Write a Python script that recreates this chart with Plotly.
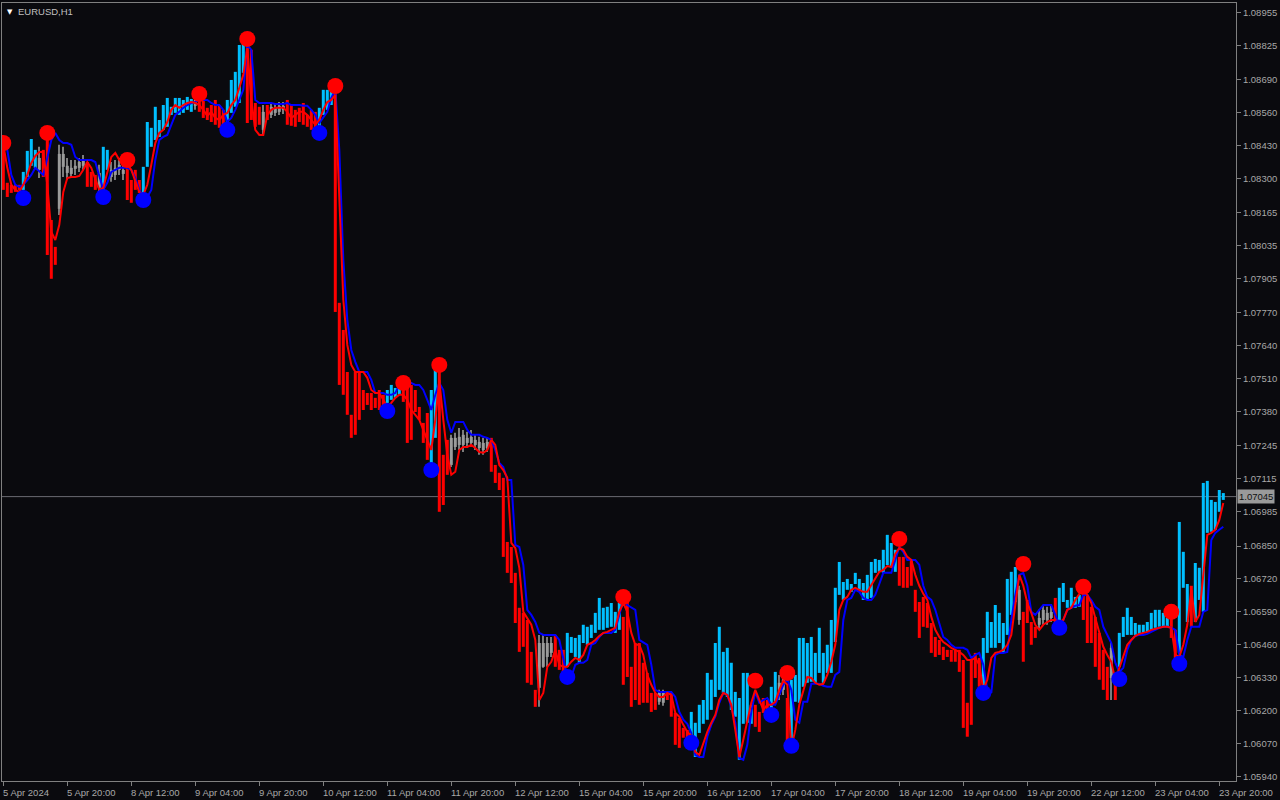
import plotly.graph_objects as go

# ---------------- data (prices stored in points, 1 point = 0.00001) ----------------
BASE = 1.0
PT = 1e-5
SYMBOL = "EURUSD,H1"
BID = 1.07045

x_tick_labels = ["5 Apr 2024", "5 Apr 20:00", "8 Apr 12:00", "9 Apr 04:00", "9 Apr 20:00",
                 "10 Apr 12:00", "11 Apr 04:00", "11 Apr 20:00", "12 Apr 12:00", "15 Apr 04:00",
                 "15 Apr 20:00", "16 Apr 12:00", "17 Apr 04:00", "17 Apr 20:00", "18 Apr 12:00",
                 "19 Apr 04:00", "19 Apr 20:00", "22 Apr 12:00", "23 Apr 04:00", "23 Apr 20:00"]
x_tick_bars = [0, 16, 32, 48, 64, 80, 96, 112, 128, 144, 160, 176, 192, 208, 224, 240, 256, 272, 288, 304]

y_tick_values = [1.08955, 1.08825, 1.08690, 1.08560, 1.08430, 1.08300, 1.08165, 1.08035,
                 1.07905, 1.07770, 1.07640, 1.07510, 1.07380, 1.07245, 1.07115, 1.06985,
                 1.06850, 1.06720, 1.06590, 1.06460, 1.06330, 1.06200, 1.06070, 1.05940]

# b = bullish (sky blue), r = bearish (red), g = neutral candle (gray)
body_kind = ("rrrrrbbbbgr" "rrrggggggg" "rrrgbbgggg" "rrrrbbbbbb" "bbbbbbbgrr" "rrrrrbbbbb"
             "rrrrgrgggg" "rrrrrrrrbb" "bbrrrrrrrr" "rrrrrbbbbr" "rrrrrrbbrr" "rggggggggg"
             "grrrrrrrrr" "rrrggggrrr" "bbbbbbbbbb" "bbbbrrrrrr" "rrrggrrrrr" "rbbbbbbbbb"
             "bbbbbbbrrr" "rbbggrbbbb" "bbbbbbbbbb" "bbbbbbbbbb" "bbbrrrrrrr" "rrrrrrrrrr"
             "rrrrbbbbbb" "bbbgrrrrgg" "ggrbbbbbbr" "rrrrrrgrbb" "bbbbbbbbbb" "brrbbbrbbb"
             "bbbbb")

body_top = [
    8422, 8284, 8276, 8276, 8276, 8327, 8410, 8457, 8414, 8382,
    8414, 8473, 8137, 8031, 8398, 8398, 8351, 8343, 8351, 8366,
    8374, 8366, 8327, 8315, 8323, 8426, 8414, 8335, 8343, 8355,
    8335, 8355, 8295, 8335, 8295, 8347, 8524, 8501, 8584, 8532,
    8591, 8619, 8584, 8619, 8619, 8611, 8623, 8615, 8611, 8623,
    8611, 8580, 8591, 8611, 8591, 8572, 8611, 8690, 8722, 8828,
    8836, 8828, 8809, 8599, 8584, 8564, 8591, 8584, 8580, 8588,
    8588, 8611, 8591, 8572, 8580, 8599, 8552, 8572, 8564, 8580,
    8651, 8651, 8659, 8651, 7810, 7703, 7537, 7368, 7537, 7537,
    7466, 7454, 7454, 7435, 7466, 7447, 7466, 7486, 7474, 7494,
    7466, 7498, 7486, 7466, 7399, 7336, 7375, 7466, 7545, 7537,
    7210, 7269, 7277, 7277, 7281, 7289, 7277, 7281, 7269, 7261,
    7257, 7261, 7277, 7170, 7139, 7119, 6866, 6846, 6744, 6606,
    6586, 6558, 6432, 6282, 6467, 6467, 6467, 6467, 6499, 6440,
    6440, 6507, 6491, 6487, 6499, 6539, 6531, 6539, 6586, 6645,
    6606, 6610, 6625, 6590, 6625, 6570, 6649, 6373, 6467, 6467,
    6389, 6349, 6270, 6270, 6270, 6270, 6270, 6270, 6191, 6171,
    6132, 6124, 6195, 6152, 6223, 6242, 6349, 6322, 6467, 6531,
    6432, 6448, 6389, 6274, 6250, 6349, 6349, 6223, 6223, 6195,
    6250, 6242, 6294, 6353, 6310, 6322, 6250, 6322, 6341, 6487,
    6487, 6467, 6491, 6428, 6527, 6428, 6460, 6558, 6685, 6787,
    6708, 6720, 6700, 6744, 6720, 6704, 6736, 6787, 6799, 6795,
    6835, 6894, 6862, 6835, 6807, 6807, 6767, 6795, 6677, 6629,
    6649, 6625, 6546, 6491, 6479, 6452, 6440, 6440, 6440, 6440,
    6400, 6231, 6400, 6428, 6408, 6487, 6590, 6550, 6617, 6586,
    6546, 6720, 6748, 6767, 6677, 6590, 6637, 6550, 6531, 6566,
    6598, 6586, 6590, 6645, 6685, 6704, 6637, 6685, 6649, 6657,
    6685, 6657, 6610, 6570, 6507, 6440, 6373, 6448, 6349, 6507,
    6570, 6606, 6570, 6546, 6539, 6539, 6550, 6586, 6598, 6598,
    6586, 6566, 6566, 6519, 6945, 6827, 6700, 6693, 6783, 6764,
    7099, 7107, 7032, 7024, 7071, 7059]

body_bot = [
    8256, 8228, 8244, 8248, 8256, 8256, 8307, 8351, 8343, 8335,
    8307, 7999, 7905, 7960, 8181, 8347, 8323, 8319, 8339, 8343,
    8351, 8268, 8268, 8256, 8264, 8256, 8335, 8307, 8315, 8335,
    8319, 8216, 8205, 8256, 8244, 8236, 8347, 8426, 8453, 8465,
    8493, 8505, 8552, 8560, 8552, 8560, 8572, 8564, 8588, 8564,
    8540, 8532, 8524, 8513, 8501, 8513, 8524, 8560, 8584, 8599,
    8718, 8520, 8532, 8505, 8513, 8493, 8532, 8552, 8560, 8564,
    8572, 8513, 8509, 8505, 8524, 8513, 8505, 8493, 8481, 8501,
    8552, 8572, 8591, 7774, 7486, 7447, 7368, 7277, 7289, 7348,
    7387, 7407, 7387, 7395, 7387, 7407, 7415, 7427, 7435, 7447,
    7419, 7257, 7269, 7379, 7348, 7257, 7190, 7178, 7277, 6985,
    7012, 7131, 7170, 7241, 7249, 7249, 7257, 7257, 7249, 7237,
    7229, 7237, 7143, 7099, 7071, 6807, 6744, 6704, 6546, 6432,
    6452, 6310, 6302, 6215, 6290, 6373, 6412, 6428, 6373, 6361,
    6341, 6373, 6428, 6412, 6389, 6467, 6460, 6487, 6507, 6519,
    6519, 6527, 6531, 6507, 6519, 6302, 6333, 6215, 6242, 6223,
    6231, 6231, 6195, 6203, 6235, 6231, 6242, 6176, 6065, 6053,
    6093, 6077, 6097, 6017, 6112, 6148, 6164, 6203, 6254, 6282,
    6270, 6254, 6203, 6176, 6006, 6148, 6152, 6148, 6136, 6116,
    6191, 6183, 6191, 6235, 6262, 6282, 6057, 6085, 6235, 6231,
    6294, 6310, 6314, 6310, 6349, 6310, 6349, 6349, 6471, 6657,
    6637, 6677, 6669, 6700, 6677, 6637, 6637, 6645, 6744, 6748,
    6744, 6775, 6767, 6748, 6693, 6685, 6685, 6693, 6590, 6487,
    6531, 6527, 6428, 6412, 6420, 6400, 6412, 6393, 6393, 6353,
    6132, 6097, 6144, 6329, 6294, 6294, 6428, 6448, 6448, 6467,
    6428, 6499, 6578, 6629, 6558, 6393, 6546, 6460, 6487, 6539,
    6558, 6558, 6566, 6550, 6558, 6629, 6606, 6610, 6606, 6610,
    6558, 6467, 6467, 6373, 6322, 6282, 6242, 6329, 6242, 6373,
    6491, 6499, 6499, 6499, 6499, 6507, 6511, 6519, 6527, 6531,
    6531, 6531, 6487, 6408, 6428, 6685, 6550, 6531, 6550, 6637,
    6590, 6902, 6906, 6914, 6985, 7032]

gray_idx = [9, 14, 15, 16, 17, 18, 19, 20, 24, 27, 28, 29, 30, 48, 65, 67, 68, 69, 70,
            112, 113, 114, 115, 116, 117, 118, 119, 120, 121, 134, 135, 136, 137,
            164, 165, 194, 195, 254, 259, 260, 261, 262, 277]
gray_wick_hi = [8426, 8434, 8426, 8382, 8374, 8374, 8382, 8394, 8355, 8366, 8374, 8382, 8362,
                8631, 8591, 8603, 8599, 8603, 8603, 7289, 7297, 7316, 7308, 7301, 7308, 7289,
                7281, 7277, 7277, 6499, 6499, 6491, 6491, 6282, 6282, 6341, 6341, 6693, 6598,
                6617, 6610, 6617, 6467]
gray_wick_lo = [8303, 8157, 8307, 8295, 8303, 8315, 8327, 8335, 8248, 8288, 8295, 8315, 8295,
                8572, 8473, 8540, 8548, 8552, 8556, 7162, 7229, 7229, 7221, 7237, 7245, 7229,
                7210, 7210, 7221, 6215, 6369, 6373, 6412, 6223, 6219, 6242, 6262, 6539, 6519,
                6539, 6539, 6550, 6242]

red_line = [
    8434, 8343, 8276, 8256, 8248, 8276, 8315, 8362, 8390, 8406, 8406, 8276, 8090, 8058, 8118,
    8248, 8303, 8307, 8307, 8311, 8335, 8366, 8343, 8295, 8256, 8264, 8323, 8386, 8402, 8374,
    8366, 8358, 8335, 8295, 8248, 8236, 8276, 8355, 8441, 8481, 8493, 8524, 8572, 8591,
    8580, 8591, 8599, 8603, 8599, 8591, 8572, 8548, 8564, 8540, 8532, 8552, 8560, 8591, 8611,
    8659, 8710, 8816, 8611, 8493, 8473, 8473, 8552, 8572, 8580, 8580, 8580, 8564, 8540, 8552,
    8564, 8564, 8552, 8532, 8513, 8532, 8572, 8603, 8611, 8631,
    8216, 7822, 7644, 7565, 7537, 7537, 7537, 7514, 7466, 7454, 7454, 7427, 7399, 7415, 7435, 7447,
    7447, 7427, 7387, 7368, 7348, 7308, 7269, 7229, 7348, 7506, 7348, 7210, 7131, 7143, 7229,
    7241, 7241, 7249, 7237, 7221, 7218, 7229, 7269, 7249, 7170, 7150,
    7119, 6862, 6842, 6764, 6590, 6566, 6539, 6479, 6242, 6270, 6373, 6393, 6440, 6381, 6373,
    6373, 6393, 6408, 6400, 6420, 6460, 6467, 6479, 6495, 6507, 6511, 6519, 6527, 6590, 6625,
    6590, 6507, 6460, 6460, 6420, 6341, 6302, 6270, 6254, 6254, 6270, 6262, 6191, 6176, 6144,
    6116, 6101, 6037, 6025, 6073, 6116, 6152, 6183, 6242, 6270, 6262, 6223, 6124, 6017,
    6085, 6152, 6231, 6282, 6242, 6203, 6223, 6223, 6235, 6282, 6318, 6302, 6053, 6124, 6223,
    6282, 6333, 6329, 6310, 6302, 6306, 6341, 6393, 6460, 6598, 6637, 6649, 6677, 6685, 6677,
    6669, 6669, 6697, 6720, 6748, 6756, 6771, 6767, 6819, 6842, 6835, 6807,
    6795, 6736, 6693, 6661, 6637, 6570, 6519, 6491, 6471, 6460, 6448, 6440, 6432, 6420, 6400,
    6400, 6408, 6381, 6282, 6322, 6408, 6428, 6432, 6440, 6460, 6499, 6617, 6736, 6693, 6625,
    6586, 6539, 6519, 6539, 6550, 6558, 6558, 6550, 6558, 6598,
    6606, 6637, 6661, 6677, 6657, 6625, 6566, 6511, 6452, 6420, 6393, 6322, 6369, 6420, 6460,
    6479, 6495, 6503, 6507, 6511, 6519, 6523, 6527, 6531, 6531, 6527, 6420, 6412, 6460, 6539,
    6677, 6550, 6578, 6744, 6894, 6902, 6914, 6953, 7020]

blue_line = [
    8453, 8414, 8315, 8276, 8268, 8276, 8295, 8315, 8343, 8327, 8315, 8382, 8453, 8481, 8453,
    8441, 8441, 8434, 8386, 8374, 8374, 8374, 8374, 8366, 8315, 8256, 8284, 8327, 8335, 8343,
    8343, 8343, 8335, 8303, 8256, 8228, 8228, 8256, 8374, 8453, 8465, 8473, 8513, 8552,
    8564, 8580, 8591, 8599, 8603, 8611, 8611, 8611, 8599, 8591, 8591, 8572, 8524, 8540, 8572,
    8611, 8651, 8828, 8809, 8611, 8599, 8599, 8599, 8599, 8595, 8595, 8595, 8599, 8591, 8591,
    8591, 8588, 8588, 8572, 8552, 8520, 8540, 8564, 8619, 8651,
    8414, 7980, 7743, 7624, 7577, 7537, 7537, 7537, 7506, 7454, 7454, 7454, 7447, 7447, 7454, 7486,
    7494, 7494, 7494, 7486, 7486, 7466, 7427, 7387, 7447, 7494, 7466, 7348, 7297, 7340, 7340,
    7340, 7308, 7289, 7289, 7289, 7281, 7277, 7269, 7229, 7178, 7162,
    7111, 7111, 6854, 6846, 6775, 6598, 6578, 6550, 6507, 6499, 6499, 6499, 6499, 6479, 6400,
    6333, 6333, 6381, 6389, 6389, 6400, 6460, 6467, 6491, 6507, 6507, 6507, 6519, 6578, 6637,
    6617, 6606, 6598, 6479, 6471, 6460, 6381, 6282, 6274, 6274, 6274, 6274, 6254, 6195, 6164,
    6148, 6112, 6025, 6017, 6017, 6097, 6144, 6176, 6231, 6270, 6262, 6215, 6152, 6013,
    6006, 6065, 6195, 6274, 6231, 6242, 6250, 6223, 6223, 6262, 6302, 6322, 6282, 6164, 6152,
    6235, 6235, 6306, 6306, 6306, 6298, 6294, 6294, 6341, 6353, 6558, 6637, 6645, 6677, 6669,
    6645, 6637, 6637, 6657, 6700, 6744, 6744, 6744, 6795, 6846, 6827, 6795,
    6795, 6795, 6775, 6693, 6649, 6637, 6598, 6539, 6491, 6479, 6460, 6448, 6448, 6448, 6440,
    6408, 6420, 6428, 6381, 6282, 6270, 6420, 6428, 6428, 6432, 6558, 6657, 6736, 6744, 6693,
    6590, 6578, 6598, 6617, 6617, 6617, 6578, 6539, 6558, 6598,
    6606, 6614, 6617, 6657, 6657, 6637, 6610, 6598, 6531, 6499, 6467, 6389, 6353, 6369, 6440,
    6479, 6495, 6499, 6499, 6503, 6511, 6519, 6527, 6531, 6531, 6527, 6519, 6420, 6412, 6479,
    6531, 6531, 6531, 6590, 6598, 6874, 6902, 6914, 6926]

red_dot_idx = [0, 11, 31, 49, 61, 83, 100, 109, 155, 188, 196, 224, 255, 270, 292]
red_dot_val = [8441, 8481, 8374, 8635, 8852, 8666, 7494, 7565, 6649, 6318, 6349, 6878, 6779, 6689, 6590]
blue_dot_idx = [5, 25, 35, 56, 79, 96, 107, 141, 172, 192, 197, 245, 264, 279, 294]
blue_dot_val = [8224, 8228, 8216, 8493, 8481, 7383, 7150, 6333, 6073, 6183, 6061, 6270, 6527, 6325, 6385]

# ---------------- styling ----------------
BG = "#0a0a0e"
FRAME = "#808080"
TXT = "#a8a8a8"
FONT = "Liberation Sans"
KIND_COLOR = {"b": "#00bfff", "r": "#ff0000", "g": "#9b9b9b"}
X_RANGE = [-0.325, 308.175]
Y_RANGE = [1.059222, 1.089938]


def to_price(pts):
    return [round(BASE + float(v) * PT, 5) for v in pts]


n = len(body_kind)
idx = list(range(n))
top = to_price(body_top)
bot = to_price(body_bot)

fig = go.Figure()

# neutral-candle wicks (thin bars drawn under the bodies)
w_hi = to_price(gray_wick_hi)
w_lo = to_price(gray_wick_lo)
fig.add_trace(go.Bar(x=gray_idx, base=w_lo, y=[h - l for h, l in zip(w_hi, w_lo)],
                     width=0.25, marker=dict(color="#7c7c7c", line=dict(width=0)),
                     hoverinfo="skip"))

# bodies
fig.add_trace(go.Bar(x=idx, base=bot, y=[max(t - b, 4e-5) for t, b in zip(top, bot)],
                     width=0.75,
                     marker=dict(color=[KIND_COLOR[k] for k in body_kind], line=dict(width=0))))

fig.add_trace(go.Scatter(x=idx, y=to_price(blue_line), mode="lines",
                         line=dict(color="#0000ff", width=2)))
fig.add_trace(go.Scatter(x=idx, y=to_price(red_line), mode="lines",
                         line=dict(color="#ff0000", width=2)))
fig.add_trace(go.Scatter(x=red_dot_idx, y=to_price(red_dot_val), mode="markers",
                         marker=dict(color="#ff0000", size=16)))
fig.add_trace(go.Scatter(x=blue_dot_idx, y=to_price(blue_dot_val), mode="markers",
                         marker=dict(color="#0000ff", size=16)))

annotations = []
for b, lab in zip(x_tick_bars, x_tick_labels):
    annotations.append(dict(x=b, y=0, xref="x", yref="paper", text=lab, showarrow=False,
                            xanchor="left", yanchor="top", xshift=-2, yshift=-4,
                            font=dict(family=FONT, size=9.5, color=TXT)))
annotations.append(dict(x=0, y=1, xref="paper", yref="paper", text="▼", showarrow=False,
                        xanchor="left", yanchor="top", xshift=3, yshift=-3,
                        font=dict(family="DejaVu Sans", size=7, color="#ffffff")))
annotations.append(dict(x=0, y=1, xref="paper", yref="paper", text=SYMBOL, showarrow=False,
                        xanchor="left", yanchor="top", xshift=14, yshift=-1,
                        font=dict(family=FONT, size=9.5, color="#c0c0c0")))
annotations.append(dict(x=1, y=BID, xref="paper", yref="y", text=f"{BID:.5f}", showarrow=False,
                        xanchor="left", yanchor="middle", xshift=1,
                        bgcolor="#9a9a9a", borderpad=1,
                        font=dict(family=FONT, size=9.5, color="#101010")))

fig.update_layout(
    width=1280, height=800,
    margin=dict(l=2, r=44, t=3, b=19),
    paper_bgcolor=BG, plot_bgcolor=BG,
    showlegend=False, barmode="overlay",
    annotations=annotations,
    shapes=[dict(type="line", xref="paper", x0=0, x1=1, yref="y", y0=BID, y1=BID,
                 line=dict(color="#6a6a72", width=1), layer="below")],
)
fig.update_xaxes(range=X_RANGE, showgrid=False, zeroline=False,
                 showline=True, mirror=True, linecolor=FRAME, linewidth=1,
                 ticks="outside", ticklen=4, tickcolor=FRAME, tickvals=x_tick_bars,
                 showticklabels=False)
fig.update_yaxes(range=Y_RANGE, side="right", showgrid=False, zeroline=False,
                 showline=True, mirror=True, linecolor=FRAME, linewidth=1,
                 ticks="outside", ticklen=4, tickcolor=FRAME,
                 tickvals=y_tick_values, ticktext=[f"{v:.5f}" for v in y_tick_values],
                 tickfont=dict(family=FONT, size=9.5, color=TXT))

fig.write_html("out.html", config={"displayModeBar": False},
               post_script="document.body.style.margin='0px';document.body.style.overflow='hidden';")
